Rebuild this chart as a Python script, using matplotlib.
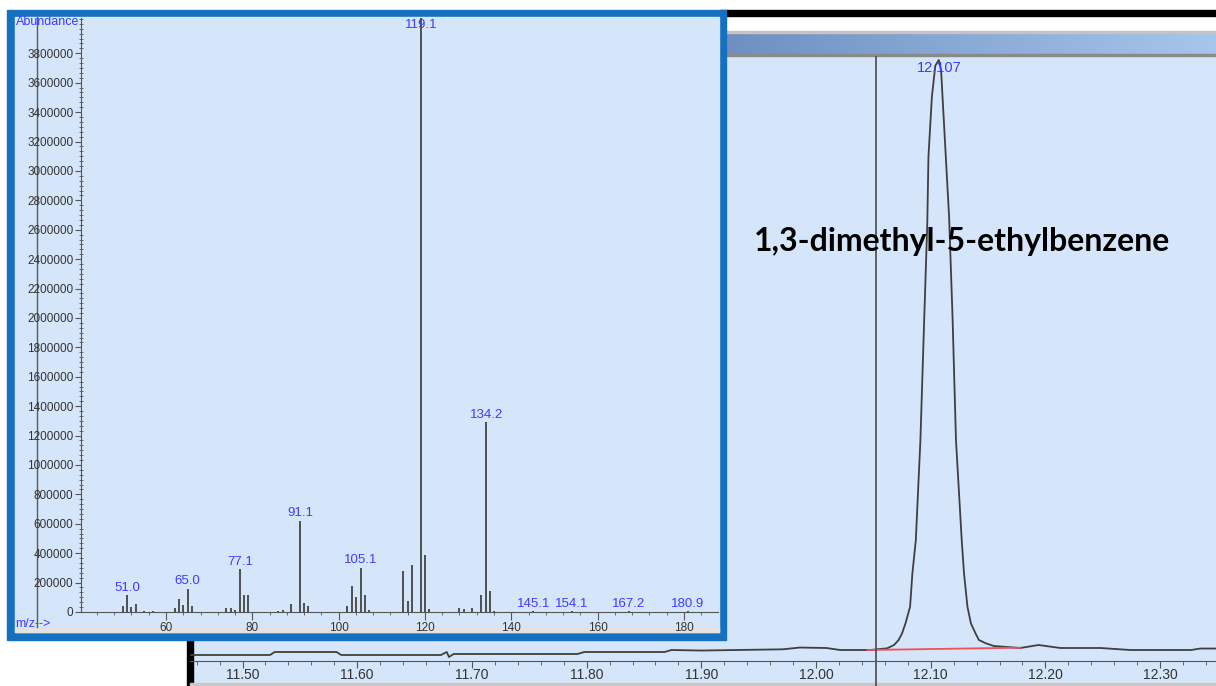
import matplotlib.pyplot as plt
import numpy as np
from matplotlib.colors import LinearSegmentedColormap
from matplotlib.patches import Rectangle
from matplotlib.ticker import AutoMinorLocator, FormatStrFormatter, MultipleLocator

plt.rcParams['font.family'] = ['Liberation Sans', 'DejaVu Sans']

# Mass spectrum (m/z, abundance)
mz = [50, 51.0, 52, 53, 55, 57, 62, 63, 64, 65.0, 66, 74, 75, 76, 77.1, 78, 79,
      86, 87, 89, 91.1, 92, 93, 102, 103, 104, 105.1, 106, 107, 115, 116, 117,
      119.1, 120, 121, 128, 129, 131, 133, 134.2, 135, 136,
      145.1, 154.1, 167.2, 180.9]
abundance = [40000, 115000, 34000, 52000, 8000, 10000, 25000, 88000, 47000, 159000, 40000,
             25000, 25000, 15000, 290000, 115000, 115000,
             8000, 12000, 52000, 620000, 59000, 43000, 40000, 178000, 100000, 301000, 115000, 15000,
             280000, 77000, 319000, 4050000, 387000, 18000, 27000, 20000, 25000, 115000, 1291000,
             145000, 10000, 5000, 5000, 5000, 5000]
labelled_mz = [51.0, 65.0, 77.1, 91.1, 105.1, 119.1, 134.2, 145.1, 154.1, 167.2, 180.9]
abundance_ticks = list(range(0, 3800001, 200000))

# Total ion chromatogram (retention time in min, abundance)
rt = [11.454, 11.524, 11.528, 11.582, 11.586, 11.673, 11.678, 11.680, 11.684, 11.792,
      11.798, 11.868, 11.874, 11.900, 11.971, 11.986, 12.009, 12.021, 12.047, 12.062,
      12.068, 12.072, 12.075, 12.078, 12.082, 12.084, 12.087, 12.091, 12.094, 12.097,
      12.098, 12.101, 12.104, 12.107, 12.109, 12.112, 12.116, 12.119, 12.122, 12.127,
      12.129, 12.132, 12.135, 12.139, 12.142, 12.148, 12.155,
      12.178, 12.194, 12.213, 12.248, 12.274, 12.327, 12.335, 12.349]
tic = [39000, 39000, 58500, 58500, 39000, 39000, 58500, 26000, 45500, 45500,
       58500, 58500, 71500, 68000, 76000, 87500, 84500, 71500, 71500, 82500,
       104000, 136500, 180000, 245000, 353000, 570000, 786500, 1436500, 2150000, 2847000,
       3278000, 3668000, 3870000, 3906500, 3841500, 3432000, 2888000, 2238000, 1436500, 786500,
       570000, 353000, 245000, 180000, 136500, 115000, 97500,
       84500, 104000, 84500, 84500, 71500, 71500, 81000, 81000]
peak_rt = 12.107
integ_rt = [12.045, 12.178]
integ_tic = [71500, 86500]
marker_rt = 12.052
compound = "1,3-dimethyl-5-ethylbenzene"

W, H = 1216, 686
PANEL = '#d6e6fa'
LABEL_BLUE = '#3c3cff'
INK = '#3f3f3f'


def rect(l, t, r, b):
    # pixel box (top-left origin) -> figure fraction
    return [l / W, 1 - b / H, (r - l) / W, (b - t) / H]


fig = plt.figure(figsize=(W / 100, H / 100), dpi=100)

# window chrome of the chromatogram
bg = fig.add_axes([0, 0, 1, 1], zorder=0)
bg.axis('off')
bg.add_patch(Rectangle((190, 57), W - 190, 627, color=PANEL))
bg.add_patch(Rectangle((720, 10), W - 720, 6, color='black'))
bar = LinearSegmentedColormap.from_list('bar', ['#6f8fc2', '#a6c6ec'])
bg.imshow(np.linspace(0, 1, 256)[None, :], cmap=bar, extent=[726, W, 54, 32], aspect='auto')
bg.add_patch(Rectangle((726, 31), W - 726, 1.5, color='#c4c4c4'))
bg.add_patch(Rectangle((726, 54), W - 726, 2, color='#8a8a8a'))
bg.add_patch(Rectangle((187, 600), 6, 86, color='black'))
bg.add_patch(Rectangle((190, 683), W - 190, 3, color='#c8c8c8'))
bg.set_xlim(0, W)
bg.set_ylim(H, 0)

# chromatogram
ax_c = fig.add_axes(rect(190, 57, W, 661), zorder=1)
ax_c.patch.set_alpha(0)
ax_c.plot(rt, tic, color=INK, lw=1.3)
ax_c.plot(integ_rt, integ_tic, color='#f0505a', lw=1.3)
ax_c.axvline(marker_rt, ymin=-0.045, ymax=1, color='#4a4a4a', lw=1.2, clip_on=False)
ax_c.annotate(f'{peak_rt:.3f}', (peak_rt, max(tic)), xytext=(0, -1), textcoords='offset points',
              ha='center', va='top', color=LABEL_BLUE, fontsize=10.5)
ax_c.text(0.7524, 0.695, compound, transform=ax_c.transAxes, ha='center', va='center',
          fontsize=23, fontweight='bold', family='Lato', color='black', zorder=5)
ax_c.set_xlim(11.4542, 12.3487)
ax_c.set_ylim(0, 3926000)
for s in ['left', 'top', 'right']:
    ax_c.spines[s].set_visible(False)
ax_c.spines['bottom'].set_color('#555555')
ax_c.xaxis.set_major_locator(MultipleLocator(0.1))
ax_c.xaxis.set_minor_locator(MultipleLocator(0.02))
ax_c.xaxis.set_major_formatter(FormatStrFormatter('%.2f'))
ax_c.tick_params(axis='x', which='major', length=5, color='#555555', labelsize=10,
                 labelcolor='#333333', pad=0)
ax_c.tick_params(axis='x', which='minor', length=3, color='#555555')
ax_c.set_yticks([])

# spectrum window frame
fr = fig.add_axes([0, 0, 1, 1], zorder=2)
fr.axis('off')
fr.add_patch(Rectangle((7, 10), 719, 630, color='#1570c0'))
fr.add_patch(Rectangle((15, 17), 704, 615, color=PANEL))
fr.add_patch(Rectangle((15, 627), 704, 5, color='#e2e2e2'))
fr.plot([37, 37], [17, 627], color='#5a5a5a', lw=1)
fr.text(16, 22, 'Abundance', color=LABEL_BLUE, fontsize=9, ha='left', va='center')
fr.text(15, 624, 'm/z-->', color=LABEL_BLUE, fontsize=9, ha='left', va='center')
fr.set_xlim(0, W)
fr.set_ylim(H, 0)

# mass spectrum
ax_s = fig.add_axes(rect(81, 18, 718, 612), zorder=3)
ax_s.patch.set_alpha(0)
ax_s.vlines(mz, 0, abundance, color='#444444', lw=1.3)
ax_s.set_xlim(40.3, 187.9)
ax_s.set_ylim(0, 4040000)
top = ax_s.get_ylim()[1]
for m, a in zip(mz, abundance):
    if m in labelled_mz:
        if a >= top:
            ax_s.annotate(f'{m:.1f}', (m, top), xytext=(0, -0.5), textcoords='offset points',
                          ha='center', va='top', color=LABEL_BLUE, fontsize=9.5)
        else:
            ax_s.annotate(f'{m:.1f}', (m, a), xytext=(0, 1), textcoords='offset points',
                          ha='center', va='bottom', color=LABEL_BLUE, fontsize=9.5)
for s in ['top', 'right']:
    ax_s.spines[s].set_visible(False)
for s in ['left', 'bottom']:
    ax_s.spines[s].set_color('#555555')
ax_s.xaxis.set_major_locator(MultipleLocator(20))
ax_s.xaxis.set_minor_locator(AutoMinorLocator(5))
ax_s.set_yticks(abundance_ticks)
ax_s.yaxis.set_minor_locator(AutoMinorLocator(6))
ax_s.yaxis.set_major_formatter(FormatStrFormatter('%d'))
ax_s.tick_params(which='major', length=4, color='#555555', labelsize=8.5,
                 labelcolor='#333333', pad=1.5)
ax_s.tick_params(axis='x', which='major', length=6)
ax_s.tick_params(which='minor', length=2.5, color='#555555')
ax_s.tick_params(axis='y', which='minor', direction='inout', length=2.5)

fig.savefig('out.png', dpi=100, facecolor='white')
